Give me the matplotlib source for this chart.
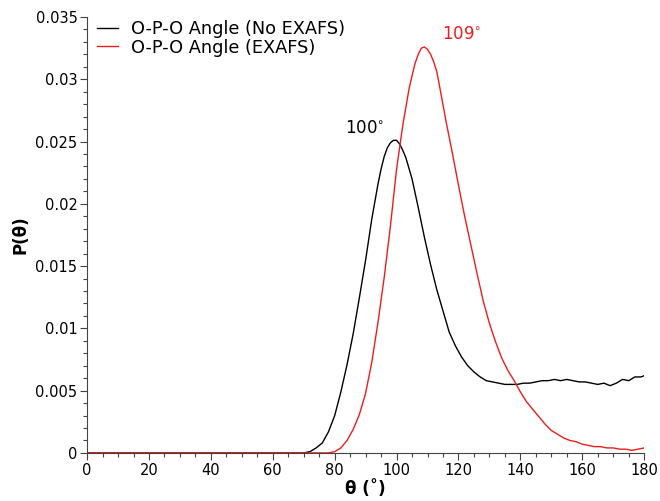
import matplotlib
matplotlib.use("Agg")
import numpy as np
from matplotlib import pyplot as plt
from matplotlib.ticker import MultipleLocator

# O-P-O angle distribution, no EXAFS
theta_noexafs = [0, 70, 72, 74, 76, 78, 80, 82, 84, 86, 88, 90, 92, 94, 95, 96, 97, 98,
                 99, 100, 101, 102, 103, 105, 107, 109, 111, 113, 115, 117, 119, 121,
                 123, 125, 127, 129, 131, 133, 135, 137, 139, 141, 143, 145, 147, 149,
                 151, 153, 155, 157, 159, 161, 163, 165, 167, 169, 171, 173, 175, 177,
                 179, 180]
p_noexafs = [0, 0, 0.0001, 0.0004, 0.0008, 0.0017, 0.0030, 0.0049, 0.0071, 0.0096,
             0.0125, 0.0155, 0.0188, 0.0216, 0.0228, 0.0238, 0.0245, 0.0249,
             0.0251, 0.0251, 0.0248, 0.0243, 0.0237, 0.0220, 0.0197, 0.0173, 0.0151,
             0.0131, 0.0114, 0.0097, 0.0086, 0.0077,
             0.0070, 0.0065, 0.0061, 0.0058, 0.0057, 0.0056, 0.0055, 0.0055, 0.0055,
             0.0056, 0.0056, 0.0057, 0.0058, 0.0058,
             0.0059, 0.0058, 0.0059, 0.0058, 0.0057, 0.0057, 0.0056, 0.0055, 0.0056,
             0.0054, 0.0056, 0.0059, 0.0058, 0.0061,
             0.0061, 0.0062]

# O-P-O angle distribution, with EXAFS
theta_exafs = [0, 78, 80, 82, 84, 86, 88, 90, 92, 94, 96, 98, 100, 102, 104, 105, 106,
               107, 108, 109, 110, 111, 112, 113, 114, 116, 118, 120, 122, 124, 126,
               128, 130, 132, 134, 136, 138, 140, 142, 144, 146, 148, 150, 152, 154,
               156, 158, 160, 162, 164, 166, 168, 170, 172, 174, 176, 178, 180]
p_exafs = [0, 0, 0.0001, 0.0004, 0.0010, 0.0019, 0.0031, 0.0048, 0.0073, 0.0105,
           0.0141, 0.0182, 0.0228, 0.0263, 0.0292, 0.0303, 0.0313,
           0.0320, 0.0325, 0.0326, 0.0324, 0.0320, 0.0314, 0.0306, 0.0293, 0.0266,
           0.0241, 0.0215, 0.0190, 0.0167, 0.0144,
           0.0122, 0.0104, 0.0089, 0.0076, 0.0066, 0.0058, 0.0049, 0.0041, 0.0035,
           0.0029, 0.0023, 0.0018, 0.0015, 0.0012,
           0.0010, 0.0009, 0.0007, 0.0006, 0.0005, 0.0005, 0.0004, 0.0004, 0.0003,
           0.0003, 0.0002, 0.0003, 0.0004]

fig = plt.figure(figsize=(6.6, 5.01), dpi=100)
ax = fig.add_axes([0.132, 0.096, 0.844, 0.870])

ax.plot(theta_noexafs, p_noexafs, color='black', lw=1.0, label='O-P-O Angle (No EXAFS)')
ax.plot(theta_exafs, p_exafs, color='#ee1c1c', lw=1.0, label='O-P-O Angle (EXAFS)')

ax.text(89.8, 0.0261, '100$^{\\circ}$', color='black', fontsize=12, ha='center', va='center')
ax.text(121, 0.0336, '109$^{\\circ}$', color='#ee1c1c', fontsize=12, ha='center', va='center')

ax.set_xlim(0, 180)
ax.set_ylim(0, 0.035)
ax.xaxis.set_major_locator(MultipleLocator(20))
ax.xaxis.set_minor_locator(MultipleLocator(5))
ax.yaxis.set_minor_locator(MultipleLocator(0.001))
ax.set_yticks([0, 0.005, 0.01, 0.015, 0.02, 0.025, 0.03, 0.035])
ax.set_yticklabels(['0', '0.005', '0.01', '0.015', '0.02', '0.025', '0.03', '0.035'])

for s in ['top', 'right']:
    ax.spines[s].set_visible(False)
for s in ['left', 'bottom']:
    ax.spines[s].set_color('#444444')
    ax.spines[s].set_linewidth(0.8)
ax.tick_params(which='major', direction='out', length=5, width=0.8, color='#444444',
               labelsize=10.5, pad=2)
ax.tick_params(which='minor', direction='out', length=3, width=0.8, color='#444444')

ax.set_xlabel('θ (˚)', fontsize=12, fontweight='bold', labelpad=2)
ax.set_ylabel('P(θ)', fontsize=12, fontweight='bold', labelpad=4)

ax.legend(loc='upper left', fontsize=12.8, frameon=False, handlelength=1.2,
          handletextpad=0.7, borderaxespad=0.0, labelspacing=0.05,
          bbox_to_anchor=(0.005, 1.01))

fig.savefig('out.png', dpi=100)
